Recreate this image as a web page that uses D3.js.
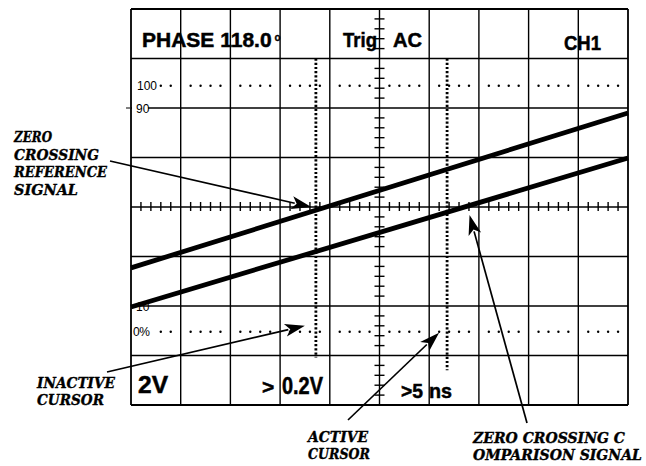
<!DOCTYPE html>
<html><head><meta charset="utf-8">
<script src="https://cdn.jsdelivr.net/npm/d3@7"></script>
<style>
html,body{margin:0;padding:0;background:#fff;}
svg{display:block;}
</style></head>
<body>
<svg id="c" width="646" height="466"></svg>
<script>
// ---- data (graticule divisions: x 0..10, y -4..4) ----
const xDivisions = [0,1,2,3,4,5,6,7,8,9,10];
const yDivisions = [-4,-3,-2,-1,0,1,2,3,4];
const refSignal = [{t:0, v:-1.23}, {t:10, v:1.90}];   // zero crossing reference signal
const cmpSignal = [{t:0, v:-2.02}, {t:10, v:0.99}];   // zero crossing comparison signal
const cursorPositions = [3.72, 6.36];                  // inactive, active cursor
const levelValues = [2.45, 2.0, -2.0, -2.52];
const levelLabels = ["100", "90", "10", "0%"];
const headerLabels = ["PHASE 118.0", "Trig", "AC", "CH1"];
const footerLabels = ["2V", ">", "0.2V", ">5", "ns"];
const annotations = [
  ["ZERO","CROSSING","REFERENCE","SIGNAL"],
  ["INACTIVE","CURSOR"],
  ["ACTIVE","CURSOR"],
  ["ZERO CROSSING C","OMPARISON SIGNAL"]
];

const svg = d3.select("#c");
const x = d3.scaleLinear().domain([0,10]).range([131,628]);
const y = d3.scaleLinear().domain([-4,4]).range([405,9]);

const sans = "Liberation Sans, Arial, sans-serif";
const serif = "DejaVu Serif, Liberation Serif, serif";

// ---- header / footer readouts (under grid lines) ----
const hdr = svg.append("g").attr("font-family", sans).attr("font-weight","bold").attr("fill","#000")
  .attr("stroke","#000").attr("stroke-width",0.5);
const ph = hdr.append("text").attr("x",142).attr("y",47).attr("font-size",21).text(headerLabels[0]);
ph.append("tspan").attr("dx",3).attr("dy",-6).attr("font-size",10).attr("stroke-width",0.3).text("o");
hdr.append("text").attr("x",343).attr("y",47).attr("font-size",20).attr("textLength",34).attr("lengthAdjust","spacingAndGlyphs").text(headerLabels[1]);
hdr.append("text").attr("x",393).attr("y",47).attr("font-size",20).attr("textLength",29).attr("lengthAdjust","spacingAndGlyphs").text(headerLabels[2]);
hdr.append("text").attr("x",564).attr("y",50).attr("font-size",21).attr("textLength",37).attr("lengthAdjust","spacingAndGlyphs").text(headerLabels[3]);

hdr.append("text").attr("x",138).attr("y",393).attr("font-size",24).attr("textLength",30).attr("lengthAdjust","spacingAndGlyphs").text(footerLabels[0]);
hdr.append("text").attr("x",262).attr("y",394).attr("font-size",21).text(footerLabels[1]);
hdr.append("text").attr("x",282).attr("y",394).attr("font-size",23).attr("textLength",41).attr("lengthAdjust","spacingAndGlyphs").text(footerLabels[2]);
hdr.append("text").attr("x",401).attr("y",398).attr("font-size",21).attr("textLength",22).attr("lengthAdjust","spacingAndGlyphs").text(footerLabels[3]);
hdr.append("text").attr("x",429).attr("y",398).attr("font-size",21).attr("textLength",23).attr("lengthAdjust","spacingAndGlyphs").text(footerLabels[4]);

// ---- graticule ----
const grid = svg.append("g").attr("stroke","#000").attr("stroke-width",1.4);
grid.selectAll("line.v").data(xDivisions).enter().append("line")
  .attr("x1", d=>x(d)).attr("x2", d=>x(d)).attr("y1", y(4)).attr("y2", y(-4))
  .attr("stroke-width", d => (d===0||d===10)?1.8:1.4);
grid.selectAll("line.h").data(yDivisions).enter().append("line")
  .attr("y1", d=>y(d)).attr("y2", d=>y(d)).attr("x1", x(0)).attr("x2", x(10))
  .attr("stroke-width", d => (d===-4||d===4)?1.8:1.4);

// minor ticks on centre axes
const minorX = d3.range(0, 50).map(i => i/5).filter((d,i)=> i%5!==0);
grid.selectAll("line.mx").data(minorX).enter().append("line")
  .attr("x1", d=>x(d)).attr("x2", d=>x(d)).attr("y1", y(0)-5).attr("y2", y(0)+4).attr("stroke-width",1.4);
const minorY = d3.range(-20, 20).map(i => i/5).filter((d,i)=> Math.round(d*5)%5!==0);
grid.selectAll("line.my").data(minorY).enter().append("line")
  .attr("y1", d=>y(d)).attr("y2", d=>y(d)).attr("x1", x(5)-5).attr("x2", x(5)+5).attr("stroke-width",1.4);

// ---- level dotted lines (100 / 0%) ----
const dotT = d3.range(3, 50).filter(i => i%5!==0).map(i => i/5);
[levelValues[0], levelValues[3]].forEach(v => {
  svg.append("g").selectAll("circle").data(dotT).enter().append("circle")
    .attr("cx", d=>x(d)).attr("cy", y(v)).attr("r", 1.2).attr("fill","#000");
});

// level labels (white backing hides the grid under the 90 label)
svg.append("rect").attr("x",x(0)+1).attr("y",y(levelValues[1])-5).attr("width",16).attr("height",10).attr("fill","#fff");
const lbl = svg.append("g").attr("font-family", sans).attr("font-size",12).attr("fill","#000");
const lblX = [137,136,136,133];
levelValues.forEach((v,i) => {
  lbl.append("text").attr("x",lblX[i]).attr("y",y(v)+4.5)
    .attr("letter-spacing", i===3?-0.5:0).text(levelLabels[i]);
});
svg.append("line").attr("x1",126).attr("x2",130).attr("y1",y(levelValues[1])).attr("y2",y(levelValues[1])).attr("stroke","#000");

// ---- cursors ----
const cursorEnds = [y(-3)+2, y(-3.3)];
svg.append("g").selectAll("line").data(cursorPositions).enter().append("line")
  .attr("x1", d=>x(d)).attr("x2", d=>x(d)).attr("y1", y(3)).attr("y2", (d,i)=>cursorEnds[i])
  .attr("stroke","#000").attr("stroke-width",2.8).attr("stroke-dasharray","2.2,2");

// ---- traces ----
const line = d3.line().x(d=>x(d.t)).y(d=>y(d.v));
[refSignal, cmpSignal].forEach(s => {
  svg.append("path").datum(s).attr("d", line).attr("fill","none")
    .attr("stroke","#000").attr("stroke-width",4.8).attr("stroke-linecap","butt");
});

// ---- annotations ----
function zeroCross(s){ const a=s[0], b=s[1]; return a.t + (0-a.v)*(b.t-a.t)/(b.v-a.v); }
function arrow(x1,y1,x2,y2){
  const g = svg.append("g");
  const dx=x2-x1, dy=y2-y1, L=Math.hypot(dx,dy), ux=dx/L, uy=dy/L;
  const hl=20, hw=6.5;
  const bx=x2-ux*hl, by=y2-uy*hl;
  g.append("line").attr("x1",x1).attr("y1",y1).attr("x2",bx+ux*3).attr("y2",by+uy*3)
    .attr("stroke","#000").attr("stroke-width",1.7);
  g.append("path").attr("d", `M${x2},${y2}L${bx-uy*hw},${by+ux*hw}L${bx+ux*5},${by+uy*5}L${bx+uy*hw},${by-ux*hw}Z`)
    .attr("fill","#000");
}
const xr = x(zeroCross(refSignal)), xc = x(zeroCross(cmpSignal));
arrow(110,161, xr-15, y(0));
arrow(107,372, x(cursorPositions[0])-11, y(levelValues[3])-6);
arrow(348,420, x(cursorPositions[1])-8, y(levelValues[3])+1);
arrow(527,423, xc+5, y(0)+8);

const ann = svg.append("g").attr("font-family", serif).attr("font-weight","bold")
  .attr("font-style","italic").attr("font-size",14).attr("fill","#000")
  .attr("stroke","#000").attr("stroke-width",0.35);
const widths = [[38,85,93,64],[78,67],[60,62],[152,169]];
function block(k, x0, y0, dy){
  annotations[k].forEach((t,i)=> ann.append("text").attr("x",x0).attr("y",y0+i*dy)
    .attr("textLength",widths[k][i]).attr("lengthAdjust","spacingAndGlyphs").text(t));
}
block(0, 14, 142, 17.5);
block(1, 37, 388, 17);
block(2, 308, 442, 16.5);
block(3, 473, 443, 16.5);
</script>
</body></html>
